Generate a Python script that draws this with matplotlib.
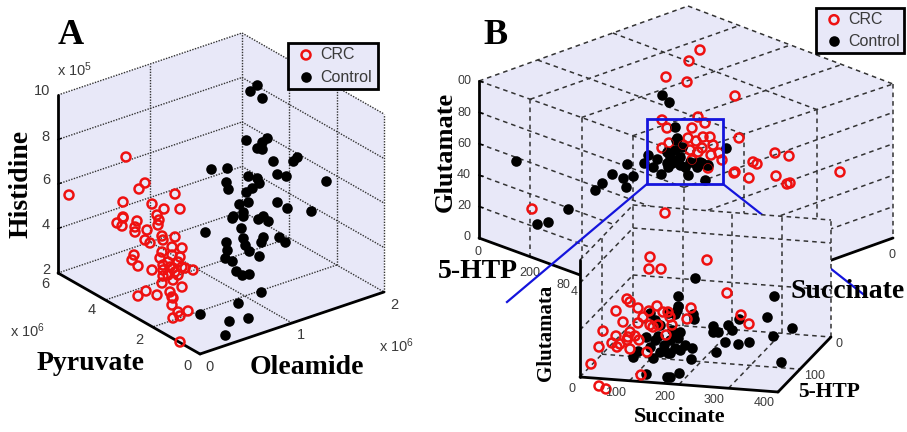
import numpy as np
import matplotlib
matplotlib.use('Agg')
import matplotlib.pyplot as plt
from matplotlib.patches import Polygon, Rectangle

plt.rcParams['font.family'] = 'Liberation Sans'
plt.rcParams['mathtext.default'] = 'regular'

# values, as projected onto the page
a_crc_x = [69,126,145,139,123,152,175,164,180,123,157,117,123,122,137,135,159,158,135,147,145,150,162,163,175,172,182,
           162,172,180,134,132,138,152,163,163,170,173,182,185,193,178,163,173,162,182,146,138,157,170,172,173,172,178,
           188,173,180,180,168,175,168,160,178]
a_crc_y = [195,157,183,189,202,204,194,209,209,217,215,223,218,226,221,227,220,225,232,230,240,243,236,240,237,247,248,
           252,255,257,255,260,266,270,265,270,267,268,267,268,270,275,276,280,283,287,291,296,295,292,297,298,305,312,
           311,318,316,342,262,272,275,258,262]
a_ctrl_x = [257,250,262,246,267,262,257,262,273,297,293,211,227,277,286,326,248,257,259,226,228,252,246,277,287,248,239,
            243,311,263,233,232,243,258,268,205,241,243,263,261,279,285,226,227,245,249,259,225,232,236,242,249,261,238,
            248,229,225,200]
a_ctrl_y = [85,91,98,140,138,142,148,149,161,157,161,169,168,174,176,181,176,178,183,182,189,188,192,202,208,202,204,
            212,211,216,216,218,216,219,221,232,228,238,237,242,237,242,242,250,245,251,256,258,261,271,275,274,292,303,
            318,321,335,314]

b_crc_x = [700,689,687,666,735,698,705,692,662,667,662,669,739,775,789,753,757,840,735,734,749,776,790,787,703,710,688,
           696,713,702,719,711,698,722,690,683,708,692,532]
b_crc_y = [50,61,82,77,96,117,123,128,120,128,148,143,138,153,156,162,164,172,172,173,178,176,183,184,137,137,138,
           141,145,148,153,155,152,160,150,145,168,160,209]
b_ctrl_x = [662,669,516,568,627,612,602,595,623,633,626,644,648,657,653,661,667,667,537,548,726,670,675,680,672,685,688,
            695,702,708,705,690,682,675,676,673,668,680,700,697,707,677]
b_ctrl_y = [95,102,161,209,164,174,183,190,178,176,187,163,155,159,167,174,152,163,224,222,148,157,150,157,163,167,175,
            163,163,165,180,162,147,127,140,160,167,165,162,167,165,138]

i_crc_x = [665,650,649,661,627,630,638,616,657,649,643,623,638,663,650,603,616,630,628,635,639,627,612,620,617,599,630,
           647,591,641,599,606,707,727,691,687,741,749,668,670,666,672,658,653]
i_crc_y = [213,257,269,269,299,302,308,311,306,311,317,322,323,312,325,331,336,332,337,336,340,340,343,344,347,347,349,
           352,364,375,386,389,260,293,308,319,315,324,312,317,335,325,325,327]
i_ctrl_x = [695,678,774,678,677,675,693,694,767,739,713,728,792,732,713,718,773,680,675,678,670,725,738,749,675,692,716,
            670,691,781,679,670,650,668,646,658,638,633,650,653,660,668,646,667,655,664,672,660,655,685,680]
i_ctrl_y = [278,296,296,306,310,314,314,319,317,319,326,325,328,330,332,332,336,332,335,338,340,342,344,342,348,348,352,
            353,359,362,373,377,313,313,337,336,351,357,347,358,352,353,374,377,340,345,330,325,320,345,350]

a_z_ticks = ['10', '8', '6', '4', '2']
a_y_ticks = ['6', '4', '2', '0']
a_x_ticks = ['0', '1', '2']
b_z_ticks = ['00', '80', '60', '40', '20', '0']

WALL = '#e8e8f8'
GREY = '#3a3a3a'
RED = '#ee1111'
BLUE = '#1414dc'

fig = plt.figure(figsize=(9.07, 4.32), dpi=100)
ax = fig.add_axes([0, 0, 1, 1])
ax.set_xlim(0, 907)
ax.set_ylim(432, 0)
ax.axis('off')


def dot(p, q, z=2):
    ax.plot([p[0], q[0]], [p[1], q[1]], color='#333333', lw=1.0, ls=(0, (1, 1)), zorder=z)


def dash(p, q, z=2):
    ax.plot([p[0], q[0]], [p[1], q[1]], color='#333333', lw=1.1, ls=(0, (3, 2.6)), zorder=z)


def thick(p, q, z=3):
    ax.plot([p[0], q[0]], [p[1], q[1]], color='k', lw=2, solid_capstyle='round', zorder=z)


def lerp(p, q, t):
    return (p[0] + (q[0] - p[0]) * t, p[1] + (q[1] - p[1]) * t)


def shift(p, dy):
    return (p[0], p[1] - dy)


def tick(x, y, s, size=10, z=6, ha='center'):
    ax.text(x, y, s, fontsize=size, color=GREY, ha=ha, va='center', zorder=z)


def bold(x, y, s, size, rot=0, z=8):
    ax.text(x, y, s, fontsize=size, family='Liberation Serif', weight='bold', color='k',
            ha='center', va='center', rotation=rot, zorder=z)


def crc(x, y, z=4, lw=1.8):
    ax.scatter(x, y, s=42, facecolors='none', edgecolors=RED, linewidths=lw, zorder=z)


def ctrl(x, y, z=5):
    ax.scatter(x, y, s=58, c='k', linewidths=0, zorder=z)


def legend(x0, y0, x1, y1):
    ax.add_patch(Rectangle((x0, y0), x1 - x0, y1 - y0, fc=WALL, ec='k', lw=2, zorder=9))
    y_a = y0 + (y1 - y0) * 0.26
    y_b = y0 + (y1 - y0) * 0.74
    crc([x0 + 18], [y_a], z=10)
    ctrl([x0 + 18], [y_b], z=10)
    for yy, s in ((y_a, 'CRC'), (y_b, 'Control')):
        ax.text(x0 + 32, yy, s, fontsize=11.5, color=GREY, va='center', zorder=10)


# panel A box
L, F, R = (58, 273), (200, 354), (384, 292)
H = 178
B = (L[0] + R[0] - F[0], L[1] + R[1] - F[1])
ax.add_patch(Polygon([L, shift(L, H), shift(B, H), shift(R, H), R, F], fc=WALL, ec='none', zorder=1))
for k in range(5):
    d = H * k / 4
    dot(shift(L, d), shift(B, d))
    dot(shift(B, d), shift(R, d))
for t in (0.5,):
    p = lerp(L, B, t)
    dot(p, shift(p, H))
    dot(lerp(F, R, t), p)
for t in (1 / 3, 2 / 3):
    p = lerp(B, R, t)
    dot(p, shift(p, H))
    dot(p, lerp(L, F, t))
dot(B, shift(B, H))
dot(R, shift(R, H))
thick(L, shift(L, H))
thick(L, F)
thick(F, R)
for k in range(1, 4):
    ax.plot(*zip(shift(L, H * k / 4), (L[0] + 3, L[1] - H * k / 4 - 1)), color='k', lw=1, zorder=3)

crc(a_crc_x, a_crc_y)
ctrl(a_ctrl_x, a_ctrl_y)

for s, y in zip(a_z_ticks, [91, 137, 180, 225, 270]):
    tick(50, y, s, size=10.5, ha='right')
for s, x, y in zip(a_y_ticks, [45, 92, 139, 188], [284, 310, 340, 366]):
    tick(x, y, s, size=10.5)
for s, x, y in zip(a_x_ticks, [209, 301, 394], [367, 335, 305]):
    tick(x, y, s, size=10.5)
tick(75, 70, r'x 10$^{5}$', size=10.5)
tick(28, 331, r'x 10$^{6}$', size=10.5)
tick(397, 346, r'x 10$^{6}$', size=10.5)
bold(71, 36, 'A', 26)
bold(21, 184, 'Histidine', 20, rot=90)
bold(91, 363, 'Pyruvate', 20)
bold(307, 368, 'Oleamide', 20)
legend(288, 43, 378, 89)

# panel B, outer box
bL, bF, bR = (479, 238), (684, 313), (893, 238)
bH = 157
tL, tF, tR = shift(bL, bH), shift(bF, bH + 2), shift(bR, bH - 3)
tB = (688, 6)
ax.add_patch(Polygon([bL, tL, tB, tR, bR, bF], fc=WALL, ec='none', zorder=1))
for t in (0.25, 0.5, 0.75, 1):
    p = lerp(tL, tF, t)
    q = lerp(bL, bF, t)
    dash(p, q)
    dash(p, lerp(tB, tR, t))
for t, u in ((0.28, 0.285), (0.64, 0.635), (1, 1)):
    p = lerp(tL, tB, t)
    q = lerp(tF, tR, u)
    dash(p, q)
    dash(q, lerp(bF, bR, u))
dash(tL, tB)
dash(tL, tF)
for k in range(1, 5):
    d = 157 * k / 5
    dash(shift(bL, d), shift(bF, d))
    dash(shift(bF, d), shift(bR, d))
thick(bL, tL)
thick(bL, bF, z=2.5)
thick(bF, bR, z=2.5)
for k in range(1, 6):
    ax.plot([bL[0], bL[0] + 4], [bL[1] - 157 * k / 5, bL[1] - 157 * k / 5 + 1], color='k', lw=1, zorder=3)

crc(b_crc_x, b_crc_y)
ctrl(b_ctrl_x, b_ctrl_y)
crc(b_crc_x, b_crc_y, z=5.5, lw=0.4)

for s, y in zip(b_z_ticks, [81, 113, 144, 175, 206, 237]):
    tick(471, y, s, size=9, ha='right')
tick(478, 252, '0', size=9)
tick(530, 273, '200', size=9)

# zoom box and its leaders, the inset sits above the far one
ax.add_patch(Rectangle((647, 119), 76, 65, fc='none', ec=BLUE, lw=2, zorder=7))
ax.plot([647, 507], [184, 302], color=BLUE, lw=1.6, zorder=7)
ax.plot([723, 863], [184, 294], color=BLUE, lw=1.6, zorder=2.8)

# inset
iL, iF, iR, iB = (580, 377), (778, 392), (831, 337), (633, 322)
iH = 117
ax.add_patch(Polygon([iL, shift(iL, iH), shift(iB, iH), shift(iR, iH), iR, iF], fc=WALL, ec='none', zorder=3))
z_in = 3.2
dash(shift(iL, iH), shift(iB, iH), z_in)
dash(shift(iB, iH), shift(iR, iH), z_in)
dash(iB, shift(iB, iH), z_in)
dash(iR, shift(iR, iH), z_in)
dash(iB, iR, z_in)
dash(iL, iB, z_in)
for k in (1, 2):
    d = 47 * k
    dash(shift(iL, d), shift(iB, d), z_in)
    dash(shift(iB, d), shift(iR, d), z_in)
for t in (0.25, 0.5, 0.75):
    p = lerp(iB, iR, t)
    dash(p, shift(p, iH), z_in)
    dash(lerp(iL, iF, t), p, z_in)
p = lerp(iL, iB, 0.415)
dash(p, shift(p, 117), z_in)
dash(p, lerp(iF, iR, 0.415), z_in)
thick(iL, shift(iL, iH), z=3.5)
thick(iL, iF, z=3.5)
thick(iF, iR, z=3.5)

crc(i_crc_x, i_crc_y, z=4.2)
ctrl(i_ctrl_x, i_ctrl_y, z=4.1)

tick(563, 285, '80', size=9)
tick(574, 292, '4', size=9)
for s, x, y in zip(['0', '100', '200', '300', '400'], [572, 616, 665, 714, 764], [389, 393, 397, 400, 403]):
    tick(x, y, s, size=9)
tick(839, 344, '0', size=9)
tick(815, 376, '100', size=9)
tick(892, 255, '0', size=9)

bold(495, 35, 'B', 26)
bold(445, 152, 'Glutamate', 19, rot=90)
bold(478, 272, '5-HTP', 20)
bold(848, 292, 'Succinate', 20)
bold(546, 333, 'Glutamata', 15, rot=90)
bold(680, 417, 'Succinate', 16)
bold(829, 392, '5-HTP', 15.5)
legend(816, 8, 904, 53)

fig.savefig('out.png', dpi=100)
